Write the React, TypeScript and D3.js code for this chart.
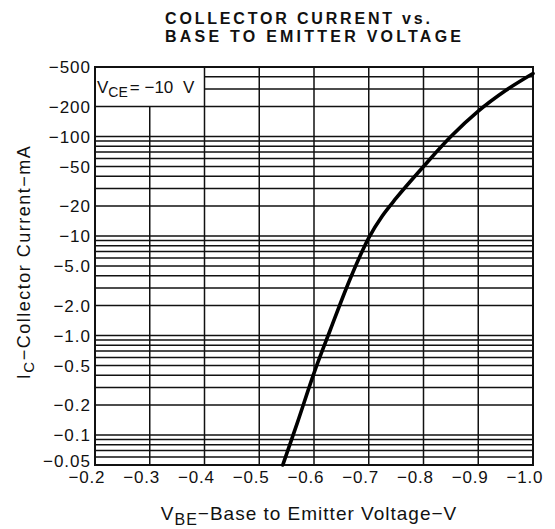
import React from "react";
import * as d3 from "d3";

const W = 555;
const H = 529;

// V_BE (V) and collector current magnitude (mA)
const vbe = [-0.543, -0.57, -0.6, -0.63, -0.665, -0.7, -0.725, -0.75, -0.8, -0.85, -0.9, -0.95, -1.0];
const ic = [0.05, 0.135, 0.42, 1.15, 3.6, 9.6, 16, 24, 50, 100, 180, 290, 430];

const xTicks = [-0.2, -0.3, -0.4, -0.5, -0.6, -0.7, -0.8, -0.9, -1.0];
const xTickLabels = ["−0.2", "−0.3", "−0.4", "−0.5", "−0.6", "−0.7", "−0.8", "−0.9", "−1.0"];
const yTicks = [500, 200, 100, 50, 20, 10, 5, 2, 1, 0.5, 0.2, 0.1, 0.05];
const yTickLabels = ["−500", "−200", "−100", "−50", "−20", "−10", "−5.0", "−2.0", "−1.0", "−0.5", "−0.2", "−0.1", "−0.05"];
const decades = [0.01, 0.1, 1, 10, 100];
const multiples = [1, 2, 3, 4, 5, 6, 7, 8, 9];

const FONT = "'Liberation Sans', Arial, Helvetica, sans-serif";

export default function App() {
  const x = d3.scaleLinear().domain([-0.2, -1.0]).range([95, 533]);
  const y = d3.scaleLog().domain([0.05, 500]).range([465, 67]);

  const gridY: number[] = [];
  decades.forEach((d) =>
    multiples.forEach((m) => {
      const v = +(d * m).toPrecision(3);
      if (v > 0.05 && v < 500) gridY.push(v);
    })
  );

  const line = d3
    .line<number>()
    .x((_, i) => x(vbe[i]))
    .y((v) => y(v))
    .curve(d3.curveMonotoneX);

  const [x0, x1] = x.range();
  const boxX = x(-0.4);
  const boxY = y(200);

  return (
    <svg width={W} height={H} style={{ position: "absolute", left: 0, top: 0, background: "#fff" }}>
      {/* Title */}
      <g fontFamily={FONT} fontWeight="bold" fontSize={16} fill="#111">
        <text x={165} y={24} textLength={265} lengthAdjust="spacing">COLLECTOR CURRENT vs.</text>
        <text x={165} y={42} textLength={296} lengthAdjust="spacing">BASE TO EMITTER VOLTAGE</text>
      </g>

      {/* grid */}
      <g stroke="#111" strokeWidth={1.5}>
        {gridY.map((v) => {
          const startX = v > 200 ? boxX : x0;
          return <line key={"h" + v} x1={startX} x2={x1} y1={y(v)} y2={y(v)} />;
        })}
        {xTicks.slice(1, -1).map((v) => {
          const startY = v > -0.4 ? boxY : y(500);
          return <line key={"v" + v} x1={x(v)} x2={x(v)} y1={startY} y2={y(0.05)} />;
        })}
      </g>

      {/* frame */}
      <rect x={x0} y={y(500)} width={x1 - x0} height={y(0.05) - y(500)} fill="none" stroke="#111" strokeWidth={2} />

      {/* curve */}
      <path d={line(ic) || ""} fill="none" stroke="#000" strokeWidth={3.6} strokeLinejoin="round" strokeLinecap="round" />

      {/* VCE label */}
      <text x={97} y={93} fontFamily={FONT} fontSize={17} fill="#111">
        V<tspan fontSize={14} dy={4}>CE</tspan>
        <tspan dy={-4} dx={2}>= −10 </tspan>
        <tspan dx={5}>V</tspan>
      </text>

      {/* y tick labels */}
      <g fontFamily={FONT} fontSize={17} fill="#111" textAnchor="end">
        {yTicks.map((v, i) => (
          <text key={"yl" + v} x={91} y={y(v)} dy={v === 0.05 ? "0.1em" : "0.36em"} letterSpacing={1}>
            {yTickLabels[i]}
          </text>
        ))}
      </g>

      {/* x tick labels */}
      <g fontFamily={FONT} fontSize={17} fill="#111" textAnchor="middle">
        {xTicks.map((v, i) => (
          <text key={"xl" + v} x={x(v) - 8} y={483} letterSpacing={0.8}>
            {xTickLabels[i]}
          </text>
        ))}
      </g>

      {/* x axis title */}
      <text x={309} y={520} textAnchor="middle" fontFamily={FONT} fontSize={19} fill="#111" letterSpacing={1}>
        V<tspan fontSize={16} dy={5}>BE</tspan>
        <tspan dy={-5}>−Base to Emitter Voltage−V</tspan>
      </text>

      {/* y axis title */}
      <text
        transform="translate(30,262) rotate(-90)"
        textAnchor="middle"
        fontFamily={FONT}
        fontSize={18}
        fill="#111"
        letterSpacing={1.5}
      >
        I<tspan fontSize={15} dy={4}>C</tspan>
        <tspan dy={-4}>−Collector Current−mA</tspan>
      </text>
    </svg>
  );
}
